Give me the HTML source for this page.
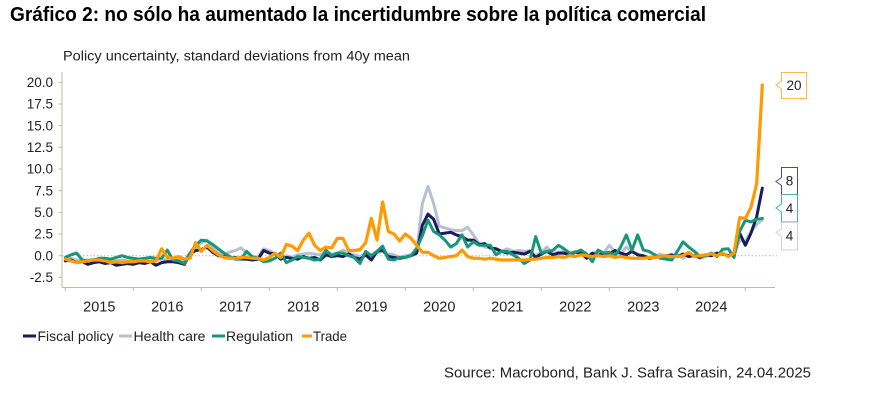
<!DOCTYPE html>
<html><head><meta charset="utf-8"><style>
html,body{margin:0;padding:0;background:#fff;}
svg{display:block;font-family:"Liberation Sans",Arial,sans-serif;}
</style></head><body>
<svg width="881" height="400" viewBox="0 0 881 400" xmlns="http://www.w3.org/2000/svg">
<rect width="881" height="400" fill="#fff"/>
<text x="10" y="21" font-size="20" font-weight="bold" fill="#000" textLength="696" lengthAdjust="spacingAndGlyphs">Gráfico 2: no sólo ha aumentado la incertidumbre sobre la política comercial</text>
<text x="63" y="60.5" font-size="13.5" fill="#222" textLength="347" lengthAdjust="spacingAndGlyphs">Policy uncertainty, standard deviations from 40y mean</text>

<!-- axes -->
<g stroke="#c3b9a8" stroke-width="1" fill="none">
<line x1="62" y1="72" x2="62" y2="287.5"/>
<line x1="62" y1="287.5" x2="775" y2="287.5"/>
<line x1="58.5" y1="82.3" x2="62" y2="82.3"/>
<line x1="58.5" y1="104" x2="62" y2="104"/>
<line x1="58.5" y1="125.6" x2="62" y2="125.6"/>
<line x1="58.5" y1="147.3" x2="62" y2="147.3"/>
<line x1="58.5" y1="169" x2="62" y2="169"/>
<line x1="58.5" y1="190.7" x2="62" y2="190.7"/>
<line x1="58.5" y1="212.3" x2="62" y2="212.3"/>
<line x1="58.5" y1="234" x2="62" y2="234"/>
<line x1="58.5" y1="255.7" x2="62" y2="255.7"/>
<line x1="58.5" y1="277.3" x2="62" y2="277.3"/>
<line x1="65.3" y1="287.5" x2="65.3" y2="291"/>
<line x1="133.3" y1="287.5" x2="133.3" y2="291"/>
<line x1="201.3" y1="287.5" x2="201.3" y2="291"/>
<line x1="269.3" y1="287.5" x2="269.3" y2="291"/>
<line x1="337.3" y1="287.5" x2="337.3" y2="291"/>
<line x1="405.3" y1="287.5" x2="405.3" y2="291"/>
<line x1="473.3" y1="287.5" x2="473.3" y2="291"/>
<line x1="541.3" y1="287.5" x2="541.3" y2="291"/>
<line x1="609.3" y1="287.5" x2="609.3" y2="291"/>
<line x1="677.3" y1="287.5" x2="677.3" y2="291"/>
<line x1="745.3" y1="287.5" x2="745.3" y2="291"/>
</g>
<line x1="62" y1="255.7" x2="777" y2="255.7" stroke="#c6bdae" stroke-width="1.2" stroke-dasharray="1.5,2"/>

<!-- y tick labels -->
<g font-size="13.5" fill="#222" text-anchor="end">
<text x="53" y="87">20.0</text>
<text x="53" y="108.7">17.5</text>
<text x="53" y="130.3">15.0</text>
<text x="53" y="152">12.5</text>
<text x="53" y="173.7">10.0</text>
<text x="53" y="195.4">7.5</text>
<text x="53" y="217">5.0</text>
<text x="53" y="238.7">2.5</text>
<text x="53" y="260.4">0.0</text>
<text x="53" y="282">-2.5</text>
</g>
<!-- x labels -->
<g font-size="14.5" fill="#222" text-anchor="middle">
<text x="99.3" y="311.5">2015</text>
<text x="167.3" y="311.5">2016</text>
<text x="235.3" y="311.5">2017</text>
<text x="303.3" y="311.5">2018</text>
<text x="371.3" y="311.5">2019</text>
<text x="439.3" y="311.5">2020</text>
<text x="507.3" y="311.5">2021</text>
<text x="575.3" y="311.5">2022</text>
<text x="643.3" y="311.5">2023</text>
<text x="711.3" y="311.5">2024</text>
</g>

<!-- series -->
<g transform="translate(65.3,255.7) scale(5.667,-8.667)" fill="none" stroke-linejoin="round" stroke-linecap="round">
<polyline vector-effect="non-scaling-stroke" stroke="#b9bfd3" stroke-width="3" points="0,-0.4 1,-0.3 2,-0.5 3,-0.6 4,-0.5 5,-0.4 6,-0.6 7,-0.5 8,-0.7 9,-0.6 10,-0.5 11,-0.6 12,-0.6 13,-0.5 14,-0.5 15,-0.6 16,-0.5 17,-0.4 18,-0.5 19,-0.6 20,-0.5 21,-0.6 22,0.3 23,1.0 24,1.5 25,1.8 26,1.0 27,0.3 28,0.2 29,0.4 30,0.6 31,0.9 32,0.3 33,-0.2 34,-0.1 35,0.8 36,0.6 37,0.2 38,-0.2 39,0.0 40,-0.2 41,0.1 42,0.2 43,0.3 44,0.2 45,0.1 46,0.4 47,0.2 48,0.3 49,0.65 50,0.3 51,0.1 52,-0.1 53,0.3 54,0.0 55,0.3 56,0.5 57,0.2 58,0.1 59,-0.2 60,0.0 61,0.1 62,0.5 63,6.0 64,8.0 65,6.0 66,3.4 67,3.2 68,3.0 69,2.9 70,2.9 71,3.3 72,2.4 73,1.4 74,1.0 75,0.9 76,0.6 77,0.5 78,0.8 79,0.5 80,0.6 81,0.5 82,0.6 83,0.0 84,0.4 85,1.0 86,0.2 87,0.4 88,0.5 89,0.2 90,0.5 91,0.2 92,-0.2 93,0.3 94,0.4 95,0.3 96,1.2 97,0.4 98,0.2 99,1.0 100,0.4 101,0.2 102,-0.2 103,-0.3 104,-0.1 105,0.2 106,-0.1 107,-0.2 108,0.1 109,-0.3 110,0.2 111,0.0 112,-0.3 113,-0.1 114,0.3 115,0.1 116,0.2 117,0.0 118,0.2 119,1.8 120,1.6 121,2.8 122,3.6 123,4.2"/>
<polyline vector-effect="non-scaling-stroke" stroke="#1a1d5c" stroke-width="3" points="0,-0.6 1,-0.5 2,-0.8 3,-0.7 4,-1.0 5,-0.8 6,-0.7 7,-0.9 8,-0.8 9,-1.1 10,-1.0 11,-0.9 12,-1.0 13,-0.8 14,-0.9 15,-0.7 16,-1.1 17,-0.8 18,-0.7 19,-0.7 20,-0.8 21,-1.0 22,0.2 23,0.6 24,0.7 25,1.0 26,0.4 27,0.0 28,-0.1 29,-0.3 30,-0.2 31,-0.4 32,-0.4 33,-0.5 34,-0.4 35,0.6 36,0.3 37,0.2 38,-0.4 39,-0.2 40,-0.3 41,-0.4 42,-0.1 43,-0.3 44,-0.2 45,-0.5 46,0.1 47,-0.1 48,0.0 49,-0.1 50,0.2 51,-0.2 52,-0.4 53,0.1 54,-0.5 55,0.5 56,0.65 57,-0.1 58,-0.2 59,-0.3 60,-0.2 61,0.0 62,0.3 63,3.5 64,4.8 65,4.2 66,2.5 67,2.6 68,2.7 69,2.4 70,2.2 71,1.8 72,1.8 73,1.3 74,1.4 75,0.9 76,0.8 77,0.5 78,0.3 79,0.4 80,0.3 81,0.2 82,0.5 83,-0.2 84,0.2 85,0.5 86,0.1 87,0.3 88,0.3 89,0.1 90,0.4 91,0.3 92,-0.3 93,0.3 94,0.0 95,0.3 96,0.2 97,0.6 98,0.3 99,0.1 100,0.5 101,0.1 102,0.0 103,-0.3 104,-0.2 105,-0.1 106,0.0 107,0.1 108,-0.1 109,0.2 110,-0.1 111,0.0 112,-0.2 113,0.1 114,0.0 115,0.3 116,0.2 117,0.0 118,0.3 119,2.6 120,1.2 121,2.6 122,4.5 123,7.8"/>
<polyline vector-effect="non-scaling-stroke" stroke="#16977a" stroke-width="3" points="0,-0.2 1,0.1 2,0.3 3,-0.5 4,-0.6 5,-0.5 6,-0.3 7,-0.3 8,-0.4 9,-0.2 10,0.0 11,-0.2 12,-0.3 13,-0.4 14,-0.3 15,-0.2 16,-0.3 17,-0.3 18,0.65 19,-0.5 20,-0.6 21,-0.9 22,0.3 23,1.2 24,1.8 25,1.7 26,1.3 27,0.8 28,0.3 29,-0.1 30,-0.4 31,-0.4 32,0.5 33,-0.1 34,-0.3 35,-0.7 36,-0.6 37,-0.3 38,0.3 39,-0.8 40,-0.5 41,-0.1 42,-0.2 43,-0.3 44,-0.5 45,-0.4 46,0.65 47,0.0 48,0.3 49,0.3 50,0.0 51,-0.2 52,-0.9 53,0.5 54,0.0 55,0.5 56,1.1 57,-0.4 58,-0.5 59,-0.2 60,-0.2 61,0.0 62,0.85 63,2.3 64,4.1 65,2.8 66,2.4 67,1.8 68,1.0 69,1.4 70,2.4 71,1.0 72,1.6 73,1.2 74,1.2 75,1.2 76,0.1 77,0.5 78,0.5 79,0.1 80,-0.3 81,-0.9 82,-0.5 83,2.2 84,0.3 85,0.5 86,0.6 87,1.2 88,0.8 89,0.3 90,0.4 91,0.65 92,0.2 93,-0.7 94,0.65 95,0.3 96,0.4 97,0.0 98,1.0 99,2.4 100,0.65 101,2.4 102,0.65 103,0.5 104,0.1 105,-0.3 106,-0.4 107,-0.5 108,0.5 109,1.6 110,1.0 111,0.5 112,-0.1 113,0.0 114,0.3 115,-0.1 116,0.75 117,0.8 118,-0.2 119,2.8 120,4.1 121,3.9 122,4.2 123,4.3"/>
<polyline vector-effect="non-scaling-stroke" stroke="#ff9a00" stroke-width="3.2" points="0,-0.4 1,-0.6 2,-0.8 3,-0.7 4,-0.6 5,-0.5 6,-0.5 7,-0.6 8,-0.8 9,-0.7 10,-0.8 11,-0.7 12,-0.7 13,-0.6 14,-0.6 15,-0.7 16,-0.6 17,0.8 18,-0.2 19,-0.3 20,-0.1 21,-0.4 22,-0.3 23,1.5 24,0.5 25,1.2 26,0.6 27,0.1 28,-0.2 29,-0.3 30,-0.3 31,-0.2 32,-0.2 33,-0.3 34,-0.3 35,-0.5 36,-0.2 37,0.3 38,-0.2 39,1.3 40,1.1 41,0.6 42,1.8 43,2.6 44,1.2 45,0.6 46,1.0 47,0.9 48,2.0 49,2.0 50,0.6 51,0.6 52,0.7 53,1.5 54,4.3 55,1.8 56,6.2 57,2.8 58,2.5 59,1.7 60,2.5 61,2.0 62,1.2 63,0.4 64,0.4 65,0.0 66,-0.3 67,-0.2 68,-0.1 69,0.0 70,0.65 71,-0.1 72,-0.3 73,-0.3 74,-0.4 75,-0.3 76,-0.4 77,-0.5 78,-0.5 79,-0.5 80,-0.5 81,-0.5 82,-0.4 83,-0.4 84,-0.3 85,-0.2 86,-0.2 87,-0.1 88,-0.2 89,0.0 90,-0.1 91,0.1 92,0.0 93,-0.1 94,0.0 95,-0.1 96,0.0 97,-0.2 98,-0.1 99,-0.2 100,-0.3 101,-0.3 102,-0.3 103,-0.2 104,-0.2 105,-0.1 106,0.0 107,-0.1 108,-0.1 109,0.0 110,0.4 111,-0.1 112,0.0 113,0.1 114,0.2 115,0.0 116,0.3 117,-0.1 118,0.3 119,4.4 120,4.3 121,5.6 122,8.3 123,19.7"/>
</g>

<!-- end labels -->
<g stroke-width="1" fill="#fff">
<path d="M781.5,72.5 H806.5 V98.5 H781.5 V89 L776,85 L781.5,81 Z" stroke="#ffb84d"/>
<path d="M781.5,167.5 H797.5 V194.5 H781.5 V185.5 L776,181.5 L781.5,177.5 Z" stroke="#4a4f7e"/>
<path d="M781.5,194.5 H797.5 V222 H781.5 V212 L776,208 L781.5,204 Z" stroke="#4fb39a"/>
<path d="M781.5,222.5 H797.5 V250 H781.5 V236.5 L776,232.5 L781.5,228.5 Z" stroke="#ccd0de"/>
</g>
<g font-size="13.5" fill="#222" text-anchor="middle">
<text x="794" y="90">20</text>
<text x="789.5" y="185.5">8</text>
<text x="789.5" y="213">4</text>
<text x="789.5" y="240.5">4</text>
</g>

<!-- legend -->
<g stroke-width="3">
<line x1="23" y1="336" x2="36" y2="336" stroke="#1a1d5c"/>
<line x1="119" y1="336" x2="132" y2="336" stroke="#b9bfd3"/>
<line x1="212" y1="336" x2="225" y2="336" stroke="#16977a"/>
<line x1="302" y1="336" x2="312" y2="336" stroke="#ff9a00"/>
</g>
<g font-size="14" fill="#222">
<text x="37.5" y="341" textLength="76" lengthAdjust="spacingAndGlyphs">Fiscal policy</text>
<text x="133.5" y="341" textLength="72" lengthAdjust="spacingAndGlyphs">Health care</text>
<text x="226" y="341" textLength="67" lengthAdjust="spacingAndGlyphs">Regulation</text>
<text x="313" y="341" textLength="34" lengthAdjust="spacingAndGlyphs">Trade</text>
</g>

<text x="444" y="377.5" font-size="14.5" fill="#222" textLength="367" lengthAdjust="spacingAndGlyphs">Source: Macrobond, Bank J. Safra Sarasin, 24.04.2025</text>
</svg>
</body></html>
